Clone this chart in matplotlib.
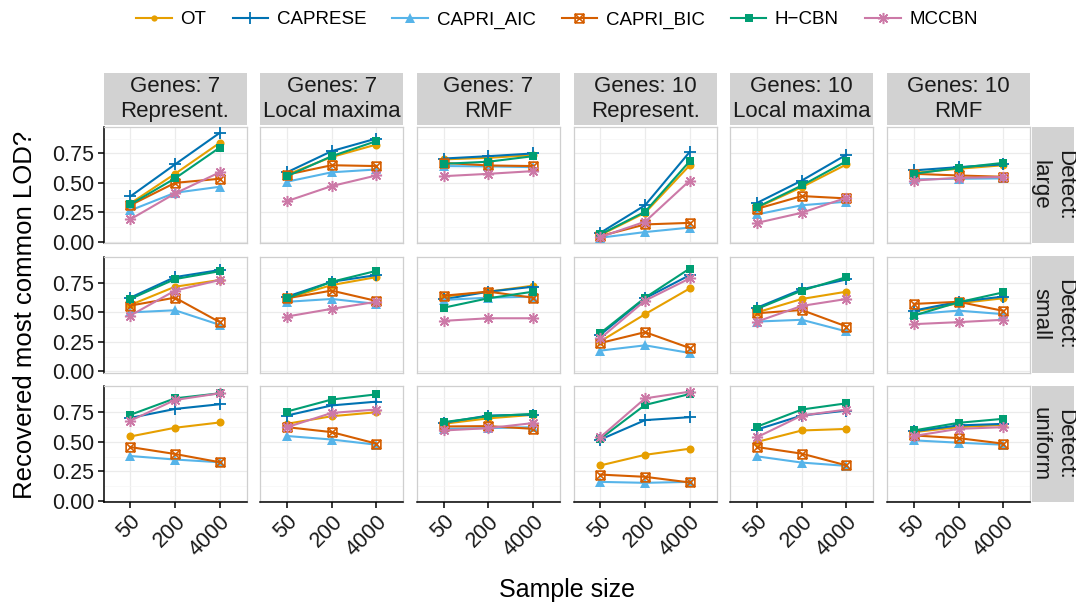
import matplotlib
matplotlib.use("Agg")
import matplotlib.pyplot as plt
from matplotlib.path import Path
from matplotlib.lines import Line2D
from matplotlib.patches import Rectangle
from matplotlib.ticker import FixedLocator

plt.rcParams['font.family'] = ['Liberation Sans', 'DejaVu Sans']

# ---------------- data ----------------
sizes = ['50', '200', '4000']
genes = ['7', '7', '7', '10', '10', '10']
landscapes = ['Represent.', 'Local maxima', 'RMF', 'Represent.', 'Local maxima', 'RMF']
detects = ['large', 'small', 'uniform']
methods = ['OT', 'CAPRESE', 'CAPRI_AIC', 'CAPRI_BIC', 'H\u2212CBN', 'MCCBN']

# values[row(detect)][column(facet)][sample size]
OT = [
    [[0.325, 0.577, 0.84], [0.57, 0.72, 0.826], [0.70, 0.713, 0.736], [0.057, 0.246, 0.65], [0.29, 0.464, 0.657], [0.585, 0.62, 0.65]],
    [[0.563, 0.718, 0.775], [0.62, 0.732, 0.80], [0.634, 0.676, 0.727], [0.254, 0.485, 0.704], [0.50, 0.614, 0.676], [0.507, 0.577, 0.62]],
    [[0.546, 0.62, 0.665], [0.654, 0.718, 0.752], [0.654, 0.70, 0.73], [0.30, 0.39, 0.442], [0.50, 0.597, 0.61], [0.583, 0.625, 0.645]],
]
CAPRESE = [
    [[0.385, 0.657, 0.925], [0.59, 0.77, 0.877], [0.707, 0.727, 0.75], [0.076, 0.31, 0.764], [0.33, 0.52, 0.74], [0.606, 0.634, 0.657]],
    [[0.625, 0.80, 0.86], [0.634, 0.76, 0.817], [0.611, 0.676, 0.718], [0.31, 0.62, 0.817], [0.54, 0.696, 0.78], [0.515, 0.59, 0.634]],
    [[0.704, 0.78, 0.82], [0.724, 0.81, 0.842], [0.662, 0.724, 0.732], [0.52, 0.685, 0.71], [0.605, 0.724, 0.766], [0.59, 0.64, 0.653]],
]
CAPRI_AIC = [
    [[0.266, 0.416, 0.467], [0.51, 0.59, 0.614], [0.643, 0.64, 0.634], [0.034, 0.082, 0.12], [0.232, 0.31, 0.34], [0.53, 0.535, 0.538]],
    [[0.50, 0.518, 0.394], [0.59, 0.614, 0.572], [0.606, 0.625, 0.634], [0.175, 0.22, 0.155], [0.422, 0.437, 0.338], [0.485, 0.515, 0.485]],
    [[0.38, 0.35, 0.327], [0.55, 0.52, 0.476], [0.611, 0.617, 0.625], [0.16, 0.152, 0.16], [0.377, 0.324, 0.296], [0.513, 0.493, 0.476]],
]
CAPRI_BIC = [
    [[0.31, 0.50, 0.535], [0.57, 0.65, 0.643], [0.67, 0.648, 0.643], [0.048, 0.147, 0.16], [0.28, 0.388, 0.368], [0.577, 0.563, 0.552]],
    [[0.558, 0.625, 0.417], [0.62, 0.685, 0.597], [0.642, 0.676, 0.625], [0.24, 0.332, 0.197], [0.493, 0.52, 0.38], [0.572, 0.59, 0.513]],
    [[0.456, 0.397, 0.327], [0.625, 0.583, 0.485], [0.631, 0.634, 0.611], [0.222, 0.203, 0.155], [0.456, 0.40, 0.30], [0.555, 0.532, 0.485]],
]
H_CBN = [
    [[0.317, 0.538, 0.80], [0.557, 0.727, 0.855], [0.662, 0.68, 0.727], [0.062, 0.255, 0.685], [0.294, 0.478, 0.685], [0.577, 0.628, 0.67]],
    [[0.614, 0.783, 0.85], [0.62, 0.76, 0.853], [0.54, 0.62, 0.676], [0.324, 0.625, 0.873], [0.53, 0.685, 0.80], [0.473, 0.586, 0.67]],
    [[0.73, 0.87, 0.913], [0.758, 0.86, 0.904], [0.668, 0.718, 0.738], [0.527, 0.814, 0.907], [0.63, 0.775, 0.828], [0.597, 0.662, 0.696]],
]
MCCBN = [
    [[0.19, 0.41, 0.59], [0.345, 0.473, 0.563], [0.557, 0.577, 0.60], [0.04, 0.17, 0.52], [0.16, 0.246, 0.374], [0.52, 0.543, 0.55]],
    [[0.473, 0.685, 0.775], [0.465, 0.53, 0.59], [0.428, 0.45, 0.45], [0.28, 0.60, 0.789], [0.422, 0.555, 0.614], [0.40, 0.417, 0.437]],
    [[0.68, 0.856, 0.913], [0.625, 0.746, 0.775], [0.597, 0.617, 0.66], [0.54, 0.87, 0.927], [0.54, 0.724, 0.775], [0.55, 0.611, 0.625]],
]
series = [OT, CAPRESE, CAPRI_AIC, CAPRI_BIC, H_CBN, MCCBN]

# ---------------- styles ----------------
colors = ['#E69F00', '#0072B2', '#56B4E9', '#D55E00', '#009E73', '#CC79A7']
boxx = Path([(-1, -1), (1, -1), (1, 1), (-1, 1), (-1, -1), (-1, -1), (1, 1), (-1, 1), (1, -1)],
            [Path.MOVETO, Path.LINETO, Path.LINETO, Path.LINETO, Path.CLOSEPOLY,
             Path.MOVETO, Path.LINETO, Path.MOVETO, Path.LINETO])
mstyles = [
    dict(marker='o', markersize=5.8, markerfacecolor=None, markeredgewidth=0),
    dict(marker='+', markersize=8.5, markeredgewidth=1.3),
    dict(marker='^', markersize=6.5, markeredgewidth=0),
    dict(marker=boxx, markersize=6.3, markerfacecolor='none', markeredgewidth=1.2),
    dict(marker='s', markersize=5.6, markeredgewidth=0),
    dict(marker=(8, 2, 0), markersize=8.0, markeredgewidth=1.1),
]

W, H = 1076, 607
fig = plt.figure(figsize=(W / 100, H / 100), dpi=100)
lefts = [103.5 + 156.7 * i for i in range(6)]
tops = [127.0, 256.5, 386.0]
pw, ph = 143.0, 116.0

FS_TICK = 15.5
FS_STRIP = 16
strip_bg = '#D2D2D2'

for r in range(3):
    for c in range(6):
        ax = fig.add_axes([lefts[c] / W, 1 - (tops[r] + ph) / H, pw / W, ph / H])
        x = list(range(1, 4))
        for k, (vals, col) in enumerate(zip(series, colors)):
            st = dict(mstyles[k])
            if st.get('markerfacecolor', 1) is None:
                st['markerfacecolor'] = col
            ax.plot(x, vals[r][c], color=col, lw=1.5, markeredgecolor=col,
                    zorder=3 + k, clip_on=False, **st)
        ax.set_xlim(0.4, 3.6)
        ax.set_ylim(-0.011, 0.975)
        ax.yaxis.set_major_locator(FixedLocator([0, 0.25, 0.5, 0.75]))
        ax.yaxis.set_minor_locator(FixedLocator([0.125, 0.375, 0.625, 0.875]))
        ax.set_xticks(x)
        ax.grid(True, which='major', color='#EBEBEB', lw=0.9, zorder=0)
        ax.grid(True, which='minor', axis='y', color='#F5F5F5', lw=0.5, zorder=0)
        ax.set_axisbelow(True)
        for sp in ax.spines.values():
            sp.set_color('#CFCFCF')
            sp.set_linewidth(0.9)
        ax.tick_params(which='minor', length=0)
        if c == 0:
            ax.spines['left'].set_color('black')
            ax.spines['left'].set_linewidth(1.1)
            ax.set_yticklabels(['0.00', '0.25', '0.50', '0.75'])
            ax.tick_params(axis='y', which='major', length=4.5, width=1.1,
                           color='black', labelsize=FS_TICK, pad=2, labelcolor='#1A1A1A')
        else:
            ax.tick_params(axis='y', which='major', length=0, labelleft=False)
        if r == 2:
            ax.spines['bottom'].set_color('black')
            ax.spines['bottom'].set_linewidth(1.1)
            ax.set_xticklabels(sizes, rotation=45, ha='right', va='top',
                               rotation_mode='anchor')
            ax.tick_params(axis='x', length=4.5, width=1.1, color='black',
                           labelsize=FS_TICK, pad=2, labelcolor='#1A1A1A')
        else:
            ax.tick_params(axis='x', length=0, labelbottom=False)

# top strips
for c in range(6):
    y0, y1 = 73.3, 124.8
    fig.patches.append(Rectangle((lefts[c] / W, 1 - y1 / H), pw / W, (y1 - y0) / H,
                                 transform=fig.transFigure, facecolor=strip_bg,
                                 edgecolor='none', zorder=0))
    fig.text((lefts[c] + pw / 2) / W, 1 - (y0 + y1) / 2 / H,
             'Genes: ' + genes[c] + '\n' + landscapes[c], ha='center', va='center',
             fontsize=FS_STRIP, color='#1A1A1A', linespacing=1.2, multialignment='center')

# right strips
for r in range(3):
    x0, x1 = 1031.5, 1073.5
    fig.patches.append(Rectangle((x0 / W, 1 - (tops[r] + ph) / H), (x1 - x0) / W, ph / H,
                                 transform=fig.transFigure, facecolor=strip_bg,
                                 edgecolor='none', zorder=0))
    fig.text((x0 + x1) / 2 / W, 1 - (tops[r] + ph / 2) / H,
             'Detect:\n' + detects[r], ha='center', va='center', rotation=-90,
             fontsize=FS_STRIP, color='#1A1A1A', linespacing=1.2, multialignment='center')

# axis titles
fig.text((lefts[0] + lefts[5] + pw) / 2 / W, 1 - 590 / H, 'Sample size',
         ha='center', va='center', fontsize=18, color='black')
fig.text(25 / W, 1 - (tops[0] + tops[2] + ph) / 2 / H, 'Recovered most common LOD?',
         ha='center', va='center', rotation=90, fontsize=18.5, color='black')

# legend
handles = []
for k, col in enumerate(colors):
    st = dict(mstyles[k])
    if st.get('markerfacecolor', 1) is None:
        st['markerfacecolor'] = col
    if k == 0:
        st['markersize'] = 4.5
    handles.append(Line2D([], [], color=col, lw=1.5, markeredgecolor=col, **st))
fig.legend(handles, methods, loc='center', bbox_to_anchor=(557 / W, 1 - 20 / H),
           ncol=6, frameon=False, fontsize=13.5, handlelength=1.9, handletextpad=0.45,
           columnspacing=1.4, borderaxespad=0)

fig.savefig('out.png', dpi=100)
